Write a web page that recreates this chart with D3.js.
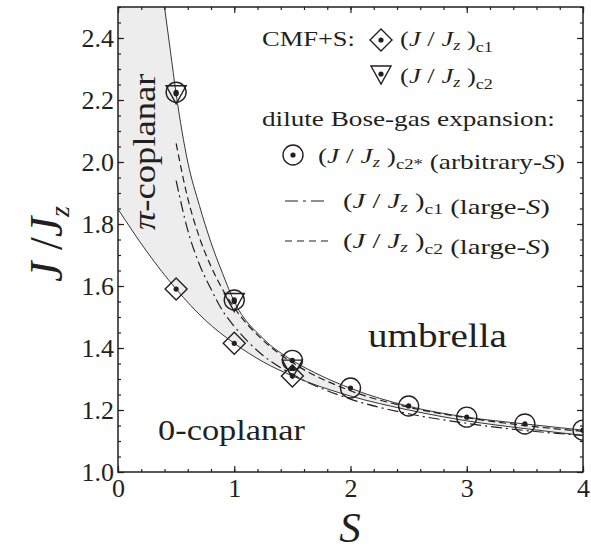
<!DOCTYPE html>
<html>
<head>
<meta charset="utf-8">
<script src="https://cdn.jsdelivr.net/npm/d3@7"></script>
<style>
body { margin: 0; background: #fff; }
text { font-family: "Liberation Serif", "Times New Roman", serif; fill: #231f20; }
</style>
</head>
<body>
<script>
var width = 591,
    height = 552;

// boundaries of the shaded region (S, J/Jz)
var lowerBoundary = [[0, 1.848], [0.25, 1.71], [0.5, 1.59], [0.75, 1.49], [1.0, 1.415], [1.25, 1.355],
    [1.5, 1.31], [2.0, 1.245], [2.5, 1.20], [3.0, 1.165], [3.5, 1.14], [4.0, 1.118]];
var upperBoundary = [[0.40, 2.50], [0.45, 2.36], [0.5, 2.22], [0.6, 2.00], [0.7, 1.86], [0.8, 1.74],
    [0.9, 1.64], [1.0, 1.55], [1.25, 1.43], [1.5, 1.36], [1.75, 1.31], [2.0, 1.27], [2.5, 1.212],
    [3.0, 1.177], [3.5, 1.155], [4.0, 1.135]];
// large-S expansions
var largeSc1 = [[0.5, 1.94], [0.6, 1.78], [0.7, 1.67], [0.8, 1.59], [0.9, 1.52], [1.0, 1.47],
    [1.25, 1.375], [1.5, 1.315], [2.0, 1.235], [2.5, 1.188], [3.0, 1.157], [3.5, 1.134], [4.0, 1.118]];
var largeSc2 = [[0.5, 2.06], [0.6, 1.883], [0.7, 1.757], [0.8, 1.663], [0.9, 1.589], [1.0, 1.53],
    [1.25, 1.424], [1.5, 1.353], [2.0, 1.262], [2.5, 1.209], [3.0, 1.175], [3.5, 1.15], [4.0, 1.131]];
// CMF+S points
var cmfC1 = [[0.5, 1.59], [1.0, 1.415], [1.5, 1.31]];
var cmfC2 = [[0.5, 2.22], [1.0, 1.55], [1.5, 1.335]];
// dilute Bose-gas, arbitrary S
var boseC2star = [[0.5, 2.225], [1.0, 1.555], [1.5, 1.36], [2.0, 1.271], [2.5, 1.213],
    [3.0, 1.177], [3.5, 1.155], [4.0, 1.135]];

var xMajor = [0, 1, 2, 3, 4];
var yMajor = [1.0, 1.2, 1.4, 1.6, 1.8, 2.0, 2.2, 2.4];

var svg = d3.select("body").append("svg")
    .attr("width", width)
    .attr("height", height);

var x = d3.scaleLinear().domain([0, 4]).range([118, 583]);
var y = d3.scaleLinear().domain([1, 2.5]).range([472, 7]);

svg.append("clipPath").attr("id", "plot")
    .append("rect").attr("x", 118).attr("y", 7).attr("width", 465).attr("height", 465);

var plot = svg.append("g").attr("clip-path", "url(#plot)");

// gray band: everything above the lower curve, then white above the upper curve
plot.append("path")
    .attr("d", d3.area().x(d => x(d[0])).y0(d => y(d[1])).y1(y(2.5)).curve(d3.curveMonotoneX)(lowerBoundary))
    .attr("fill", "#ededed");
plot.append("path")
    .attr("d", d3.area().x(d => x(d[0])).y0(d => y(d[1])).y1(y(2.5)).curve(d3.curveMonotoneX)(upperBoundary))
    .attr("fill", "#fff");

var line = d3.line().x(d => x(d[0])).y(d => y(d[1])).curve(d3.curveMonotoneX);

plot.append("path").attr("d", line(lowerBoundary))
    .attr("fill", "none").attr("stroke", "#231f20").attr("stroke-width", 0.9);
plot.append("path").attr("d", line(upperBoundary))
    .attr("fill", "none").attr("stroke", "#231f20").attr("stroke-width", 0.9);
plot.append("path").attr("d", line(largeSc1))
    .attr("fill", "none").attr("stroke", "#231f20").attr("stroke-width", 1.2)
    .attr("stroke-dasharray", "11,4,2,4");
plot.append("path").attr("d", line(largeSc2))
    .attr("fill", "none").attr("stroke", "#231f20").attr("stroke-width", 1.2)
    .attr("stroke-dasharray", "7,4");

var diamond = "M0,-11L11,0L0,11L-11,0Z",
    triangle = "M-10,-8L10,-8L0,10Z";

function markers(data, shape) {
    var g = plot.selectAll(null).data(data).enter().append("g")
        .attr("transform", d => "translate(" + x(d[0]) + "," + y(d[1]) + ")");
    if (shape === "circle") g.append("circle").attr("r", 10);
    else g.append("path").attr("d", shape);
    g.selectAll("circle,path").attr("fill", "none").attr("stroke", "#231f20").attr("stroke-width", 1.4);
    g.append("circle").attr("r", 2.6).attr("fill", "#231f20");
}
markers(cmfC1, diamond);
markers(boseC2star, "circle");
markers(cmfC2, triangle);

// axes, ticks pointing inwards on all four sides
function drawAxis(axis, tx, ty, labels) {
    var g = svg.append("g").attr("transform", "translate(" + tx + "," + ty + ")").call(axis);
    g.select(".domain").remove();
    g.selectAll("line").attr("stroke", "#231f20").attr("stroke-width", 1.2);
    if (!labels) g.selectAll("text").remove();
    return g;
}
var xMinor = d3.range(0, 4.001, 0.2), yMinor = d3.range(1, 2.501, 0.05);

var gx = drawAxis(d3.axisBottom(x).tickValues(xMajor).tickSize(-6).tickPadding(4).tickFormat(d3.format("d")), 0, 472, true);
gx.selectAll("text").attr("font-size", 26).attr("dy", "0.82em");
drawAxis(d3.axisBottom(x).tickValues(xMinor).tickSize(-3), 0, 472, false);
drawAxis(d3.axisTop(x).tickValues(xMajor).tickSize(-6), 0, 7, false);
drawAxis(d3.axisTop(x).tickValues(xMinor).tickSize(-3), 0, 7, false);

var gy = drawAxis(d3.axisLeft(y).tickValues(yMajor).tickSize(-6).tickPadding(4).tickFormat(d3.format(".1f")), 118, 0, true);
gy.selectAll("text").attr("font-size", 26).attr("dy", "0.32em");
drawAxis(d3.axisLeft(y).tickValues(yMinor).tickSize(-3), 118, 0, false);
drawAxis(d3.axisRight(y).tickValues(yMajor).tickSize(-6), 583, 0, false);
drawAxis(d3.axisRight(y).tickValues(yMinor).tickSize(-3), 583, 0, false);

svg.append("rect").attr("x", 118).attr("y", 7).attr("width", 465).attr("height", 465)
    .attr("fill", "none").attr("stroke", "#231f20").attr("stroke-width", 1.5);

// the original lettering is a little wider than Times: stretch a text to a given length
function stretch(t, tx, ty, w, rot) {
    var base = "translate(" + tx + "," + ty + ")" + (rot ? " rotate(" + rot + ")" : "");
    t.attr("transform", base);
    var bw = t.node().getBBox().width;
    t.attr("transform", base + " scale(" + (w / bw) + ",1)");
}

// axis titles
svg.append("text").attr("x", 350).attr("y", 542).attr("text-anchor", "middle")
    .attr("font-size", 43).attr("font-style", "italic").text("S");

var yt = svg.append("text").attr("transform", "translate(62,244) rotate(-90)")
    .attr("text-anchor", "middle").attr("font-size", 46);
yt.append("tspan").attr("font-style", "italic").text("J");
yt.append("tspan").text(" /");
yt.append("tspan").attr("font-style", "italic").text("J");
yt.append("tspan").attr("font-style", "italic").attr("font-size", 28).attr("dy", 7).text("z");

// phase labels
var pi = svg.append("text").attr("font-size", 32);
pi.append("tspan").attr("font-style", "italic").text("π");
pi.append("tspan").text("-coplanar");
stretch(pi, 155, 230, 157, -90);
stretch(svg.append("text").attr("font-size", 34).text("umbrella"), 368, 347, 139);
stretch(svg.append("text").attr("font-size", 30).text("0-coplanar"), 158, 440, 147);

// legend
function jj(t, sub) {
    t.append("tspan").text("(");
    t.append("tspan").attr("font-style", "italic").text("J");
    t.append("tspan").text(" / ");
    t.append("tspan").attr("font-style", "italic").text("J");
    t.append("tspan").attr("font-style", "italic").attr("font-size", 15).attr("dy", 4).text("z");
    t.append("tspan").attr("dy", -4).text(" )");
    t.append("tspan").attr("font-size", 15).attr("dy", 6).text(sub);
    t.append("tspan").attr("dy", -6).text("");
}
function tail(t) {
    t.append("tspan").text(" (large-");
    t.append("tspan").attr("font-style", "italic").text("S");
    t.append("tspan").text(")");
}
var fs = 22;
var lg = svg.append("g");
stretch(lg.append("text").attr("font-size", fs).text("CMF+S:"), 262, 46, 93);

lg.append("path").attr("d", diamond).attr("transform", "translate(381,40)")
    .attr("fill", "none").attr("stroke", "#231f20").attr("stroke-width", 1.4);
lg.append("circle").attr("cx", 381).attr("cy", 40).attr("r", 2.6).attr("fill", "#231f20");
var t1 = lg.append("text").attr("font-size", fs);
jj(t1, "c1");
stretch(t1, 400, 46, 93);

lg.append("path").attr("d", triangle).attr("transform", "translate(381,74)")
    .attr("fill", "none").attr("stroke", "#231f20").attr("stroke-width", 1.4);
lg.append("circle").attr("cx", 381).attr("cy", 74).attr("r", 2.6).attr("fill", "#231f20");
var t2 = lg.append("text").attr("font-size", fs);
jj(t2, "c2");
stretch(t2, 400, 83, 93);

stretch(lg.append("text").attr("font-size", fs).text("dilute Bose-gas expansion:"), 262, 126, 293);

lg.append("circle").attr("cx", 293).attr("cy", 155).attr("r", 10)
    .attr("fill", "none").attr("stroke", "#231f20").attr("stroke-width", 1.4);
lg.append("circle").attr("cx", 293).attr("cy", 155).attr("r", 2.6).attr("fill", "#231f20");
var t3 = lg.append("text").attr("font-size", fs);
jj(t3, "c2*");
t3.append("tspan").text(" (arbitrary-");
t3.append("tspan").attr("font-style", "italic").text("S");
t3.append("tspan").text(")");
stretch(t3, 318, 163, 247);

lg.append("line").attr("x1", 285).attr("x2", 329).attr("y1", 201).attr("y2", 201)
    .attr("stroke", "#231f20").attr("stroke-width", 1.2).attr("stroke-dasharray", "13,5,3,5");
var t4 = lg.append("text").attr("font-size", fs);
jj(t4, "c1");
tail(t4);
stretch(t4, 343, 208, 207);

lg.append("line").attr("x1", 285).attr("x2", 329).attr("y1", 241).attr("y2", 241)
    .attr("stroke", "#231f20").attr("stroke-width", 1.2).attr("stroke-dasharray", "7,5");
var t5 = lg.append("text").attr("font-size", fs);
jj(t5, "c2");
tail(t5);
stretch(t5, 343, 248, 207);
</script>
</body>
</html>
